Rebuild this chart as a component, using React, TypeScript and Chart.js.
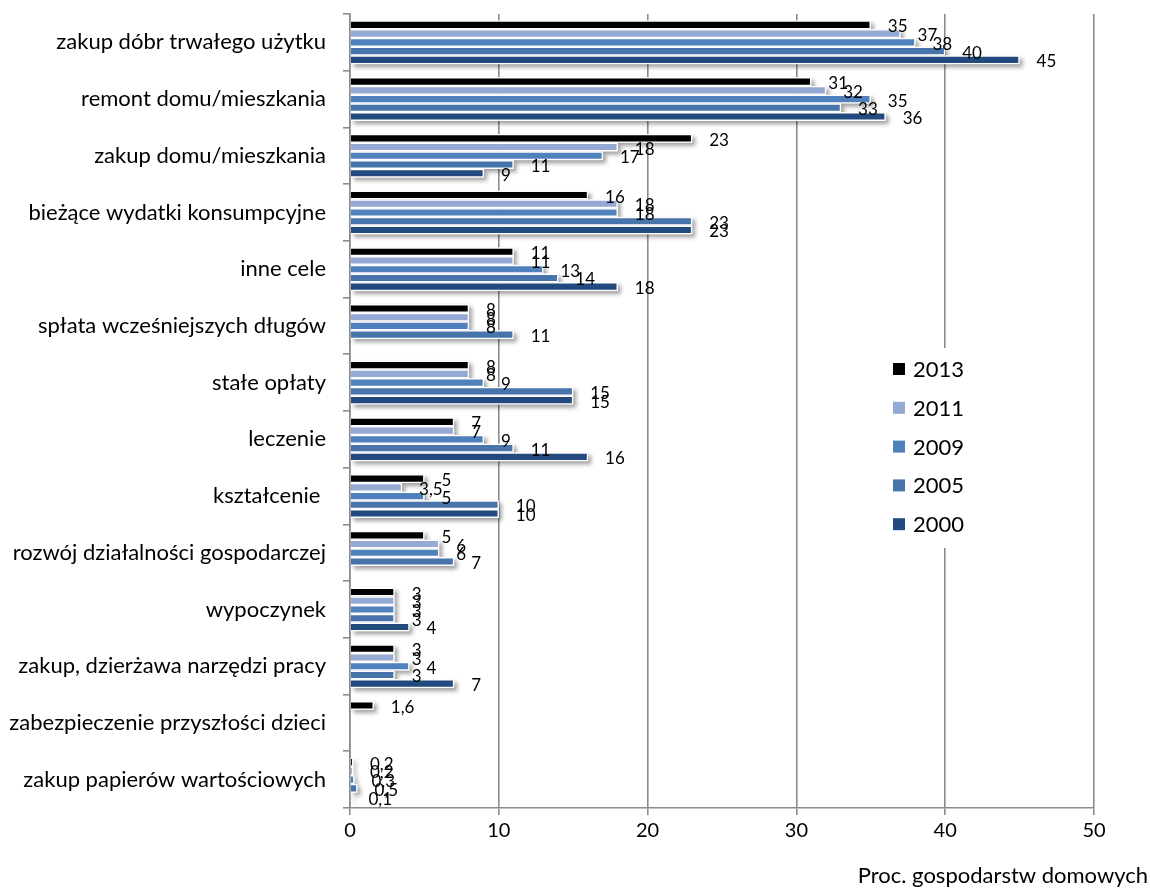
import React, { useEffect, useRef } from "react";
import { Chart, registerables } from "chart.js";

Chart.register(...registerables);

const categories = [
  "zakup dóbr trwałego użytku",
  "remont domu/mieszkania",
  "zakup domu/mieszkania",
  "bieżące wydatki konsumpcyjne",
  "inne cele",
  "spłata wcześniejszych długów",
  "stałe opłaty",
  "leczenie",
  "kształcenie ",
  "rozwój działalności gospodarczej",
  "wypoczynek",
  "zakup, dzierżawa narzędzi pracy",
  "zabezpieczenie przyszłości dzieci",
  "zakup papierów wartościowych",
];

const seriesNames = ["2013", "2011", "2009", "2005", "2000"];
const v2013 = [35, 31, 23, 16, 11, 8, 8, 7, 5, 5, 3, 3, 1.6, 0.2];
const v2011 = [37, 32, 18, 18, 11, 8, 8, 7, 3.5, 6, 3, 3, null, 0.2];
const v2009 = [38, 35, 17, 18, 13, 8, 9, 9, 5, 6, 3, 4, null, 0.3];
const v2005 = [40, 33, 11, 23, 14, 11, 15, 11, 10, 7, 3, 3, null, 0.5];
const v2000 = [45, 36, 9, 23, 18, null, 15, 16, 10, null, 4, 7, null, 0.1];
const seriesColors = ["#000000", "#94A9D4", "#4F81BD", "#4674AB", "#224A7E"];
const xTicks = [0, 10, 20, 30, 40, 50];
const axisTitle = "Proc. gospodarstw domowych";

const FONT = "Lato, 'Open Sans', sans-serif";
const GRID = "#8c8c8c";

const fmt = (v: number) => String(v).replace(".", ",");

const shadowPlugin = {
  id: "barShadow",
  beforeDatasetsDraw(chart: any) {
    const ctx = chart.ctx;
    ctx.save();
    ctx.shadowColor = "rgba(0,0,0,0.38)";
    ctx.shadowBlur = 4;
    ctx.shadowOffsetX = 3;
    ctx.shadowOffsetY = 3;
    ctx.fillStyle = "#ffffff";
    chart.data.datasets.forEach((ds: any, i: number) => {
      const meta = chart.getDatasetMeta(i);
      meta.data.forEach((el: any, j: number) => {
        if (ds.data[j] == null) return;
        const p = el.getProps(["x", "y", "base", "height"], true);
        const top = p.y - p.height / 2;
        ctx.fillRect(p.base, top, p.x - p.base, p.height);
      });
    });
    ctx.restore();
  },
};

const labelPlugin = {
  id: "valueLabels",
  afterDatasetsDraw(chart: any) {
    const ctx = chart.ctx;
    ctx.save();
    ctx.font = `17px ${FONT}`;
    ctx.fillStyle = "#000";
    ctx.textAlign = "left";
    ctx.textBaseline = "middle";
    chart.data.datasets.forEach((ds: any, i: number) => {
      const meta = chart.getDatasetMeta(i);
      meta.data.forEach((el: any, j: number) => {
        const v = ds.data[j];
        if (v == null) return;
        const p = el.getProps(["x", "y"], true);
        ctx.fillText(fmt(v), p.x + 17, p.y + 2);
      });
    });
    ctx.restore();
  },
};

const legendPlugin = {
  id: "customLegend",
  afterDraw(chart: any) {
    const ctx = chart.ctx;
    ctx.save();
    ctx.fillStyle = "#ffffff";
    ctx.fillRect(880, 348, 115, 200);
    ctx.font = `22px ${FONT}`;
    ctx.textAlign = "left";
    ctx.textBaseline = "middle";
    seriesNames.forEach((name, i) => {
      const cy = 369 + i * 38.8;
      ctx.fillStyle = seriesColors[i];
      ctx.fillRect(893, cy - 6, 12, 12);
      ctx.fillStyle = "#000";
      ctx.fillText(name, 913, cy + 1);
    });
    ctx.font = `22px ${FONT}`;
    ctx.textAlign = "right";
    ctx.fillText(axisTitle, 1148, 876);
    ctx.restore();
  },
};

export default function App() {
  const ref = useRef<HTMLCanvasElement | null>(null);

  useEffect(() => {
    document.body.style.margin = "0";
    const values = [v2013, v2011, v2009, v2005, v2000];
    const chart = new Chart(ref.current as HTMLCanvasElement, {
      type: "bar",
      data: {
        labels: categories,
        datasets: seriesNames.map((name, i) => ({
          label: name,
          data: values[i],
          backgroundColor: seriesColors[i],
          borderColor: "#ffffff",
          borderWidth: 1.3,
          categoryPercentage: 0.77,
          barPercentage: 1,
        })),
      },
      options: {
        indexAxis: "y",
        animation: false,
        responsive: false,
        maintainAspectRatio: false,
        layout: { padding: { top: 14, right: 56, left: 0, bottom: 0 } },
        plugins: {
          legend: { display: false },
          tooltip: { enabled: false },
        },
        scales: {
          x: {
            min: 0,
            max: 50,
            afterFit(scale: any) {
              scale.height = 80;
            },
            afterBuildTicks(scale: any) {
              scale.ticks = xTicks.map((v) => ({ value: v }));
            },
            grid: {
              color: GRID,
              lineWidth: 1.6,
              tickLength: 7,
              drawTicks: true,
            },
            border: { color: GRID, width: 1.6 },
            ticks: {
              color: "#000",
              font: { family: FONT, size: 20 },
              padding: 4,
            },
          },
          y: {
            afterFit(scale: any) {
              scale.width = 350;
              scale.paddingTop = 0;
              scale.paddingBottom = 0;
            },
            grid: {
              offset: true,
              drawOnChartArea: false,
              color: GRID,
              lineWidth: 1.6,
              tickLength: 7,
            },
            border: { color: GRID, width: 1.6 },
            ticks: {
              color: "#000",
              font: { family: FONT, size: 22 },
              padding: 17,
              autoSkip: false,
            },
          },
        },
      },
      plugins: [shadowPlugin, labelPlugin, legendPlugin],
    } as any);
    const f: any = (document as any).fonts;
    if (f && f.load) {
      Promise.all([f.load(`16px Lato`), f.load(`22px Lato`)]).then(() => chart.update()).catch(() => {});
    }
    return () => chart.destroy();
  }, []);

  return (
    <div style={{ position: "absolute", left: 0, top: 0, width: 1150, height: 888 }}>
      <canvas ref={ref} width={1150} height={888} style={{ width: 1150, height: 888 }} />
    </div>
  );
}
